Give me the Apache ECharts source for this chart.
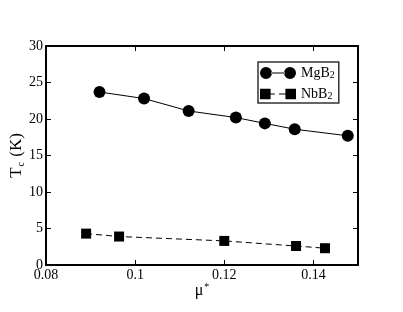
<!DOCTYPE html>
<html><head><meta charset="utf-8">
<script src="https://cdn.jsdelivr.net/npm/echarts@6/dist/echarts.min.js"></script>
<style>html,body{margin:0;padding:0;background:#fff}#c{width:403px;height:312px}</style>
</head><body><div id="c"></div>
<script>
var mgbX = [0.092, 0.102, 0.112, 0.1226, 0.1291, 0.1358, 0.1477];
var mgbY = [23.7, 22.8, 21.1, 20.2, 19.4, 18.6, 17.7];
var nbbX = [0.089, 0.0964, 0.12, 0.1361, 0.1426];
var nbbY = [4.3, 3.9, 3.3, 2.6, 2.3];
var xTicks = [0.08, 0.1, 0.12, 0.14];
var yTicks = [0, 5, 10, 15, 20, 25, 30];

var FONT = "'Liberation Serif','Times New Roman',serif";
function pairs(xs, ys){ return xs.map(function(x,i){return [x, ys[i]];}); }

var circIcon = 'path://M0,6a6,6 0 1,0 12,0a6,6 0 1,0 -12,0Z M11,5.5h14v1h-14Z M24,6a6,6 0 1,0 12,0a6,6 0 1,0 -12,0Z';
var sqIcon = 'path://M1,1h10v10h-10Z M11,5.5h4v1h-4Z M19,5.5h6v1h-6Z M25,1h10v10h-10Z';

var chart = echarts.init(document.getElementById('c'), null, {renderer:'canvas'});
var axisLine = {show:true, onZero:false, lineStyle:{color:'#000', width:2}};
var tick = {show:true, inside:true, length:5, lineStyle:{color:'#000', width:1}};
chart.setOption({
  animation:false,
  backgroundColor:'#fff',
  textStyle:{fontFamily:FONT},
  grid:{left:46, right:45, top:46, bottom:47, containLabel:false, outerBoundsMode:'none'},
  legend:{
    left:258, top:62, orient:'vertical',
    padding:[2,4,2,2], itemGap:5, itemWidth:36, itemHeight:12, itemTextGap:2,
    borderColor:'#333', borderWidth:1.5, backgroundColor:'#fff',
    textStyle:{fontFamily:FONT, fontSize:14, color:'#000',
      rich:{a:{fontFamily:FONT, fontSize:14, color:'#000', lineHeight:14}, s:{fontFamily:FONT, fontSize:10, color:'#000', lineHeight:10, verticalAlign:'bottom', padding:[6,0,0,0]}}},
    formatter:function(n){ return n==='MgB2' ? '{a|MgB}{s|2}' : '{a|NbB}{s|2}'; },
    data:[{name:'MgB2', icon:circIcon},{name:'NbB2', icon:sqIcon}]
  },
  xAxis:[{
    type:'value', min:0.08, max:0.15, interval:0.02, position:'bottom',
    axisLine:axisLine, axisTick:tick, splitLine:{show:false},
    axisLabel:{color:'#000', fontSize:14, fontFamily:FONT, margin:3,
      formatter:function(v){ return xTicks.indexOf(+v.toFixed(2))>=0 ? String(+v.toFixed(2)) : ''; }},
    name:'{a|μ}{s|*}', nameLocation:'middle', nameGap:17, nameMoveOverlap:false,
    nameTextStyle:{fontSize:16, fontFamily:FONT, rich:{a:{fontFamily:FONT, fontSize:16, color:'#000'}, s:{fontFamily:FONT, fontSize:10, color:'#000', verticalAlign:'top', padding:[0,0,8,1]}}}
  },{
    type:'value', min:0.08, max:0.15, interval:0.02, position:'top',
    axisLine:axisLine, axisTick:tick, axisLabel:{show:false}, splitLine:{show:false}
  }],
  yAxis:[{
    type:'value', min:0, max:30, interval:5, position:'left',
    axisLine:axisLine, axisTick:tick, splitLine:{show:false},
    axisLabel:{color:'#000', fontSize:14, fontFamily:FONT, margin:3},
    name:'{a|T}{s|c}{a| (K)}', nameLocation:'middle', nameGap:20, nameMoveOverlap:false,
    nameTextStyle:{fontSize:17, fontFamily:FONT, rich:{a:{fontFamily:FONT, fontSize:17, color:'#000'}, s:{fontFamily:FONT, fontSize:10, color:'#000', verticalAlign:'bottom', padding:[8,1,0,1]}}}
  },{
    type:'value', min:0, max:30, interval:5, position:'right',
    axisLine:axisLine, axisTick:tick, axisLabel:{show:false}, splitLine:{show:false}
  }],
  series:[{
    name:'MgB2', type:'line', data:pairs(mgbX, mgbY), xAxisIndex:0, yAxisIndex:0,
    symbol:'circle', symbolSize:12, color:'#000',
    lineStyle:{color:'#000', width:1}, itemStyle:{color:'#000'}
  },{
    name:'NbB2', type:'line', data:pairs(nbbX, nbbY), xAxisIndex:0, yAxisIndex:0,
    symbol:'rect', symbolSize:10, color:'#000',
    lineStyle:{color:'#000', width:1, type:[6,4]}, itemStyle:{color:'#000'}
  }]
});
</script></body></html>
